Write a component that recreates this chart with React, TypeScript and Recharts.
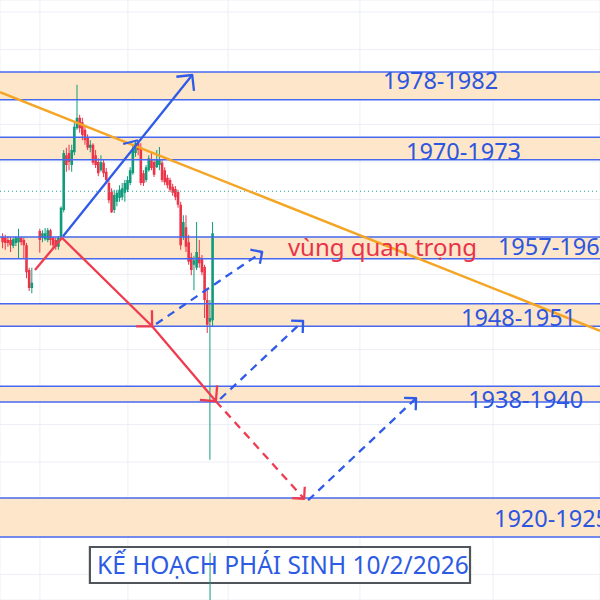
import { ComposedChart, Bar, XAxis, YAxis, CartesianGrid, ReferenceArea, ReferenceLine, ReferenceDot } from 'recharts'

// candles, one slot per bar (null = no bar drawn)
const opens = [
  1960.0, 1959.9, 1959.6, 1959.6, 1958.8, 1959.2, 1959.3, 1959.9, 1959.6, 1958.9, 1955.6, 1953.2, null, null,
  1960.8, 1959.9, 1959.7, 1959.6, 1960.9, 1959.9, 1959.6, 1958.7, 1960.0,
  1963.6, 1970.9, 1971.2, 1969.6, 1971.3, 1974.5, 1975.9, 1975.3, 1974.3, 1973.3, 1971.9, 1972.3, 1970.9, 1970.0,
  1968.9, 1969.9, 1968.7, 1967.2, 1966.0, 1963.6, 1964.7, 1965.2, 1965.3, 1965.9, 1966.3, 1967.2, 1968.5, 1971.2,
  1972.5, 1972.0, 1968.5, 1967.6, 1968.9, 1970.3, 1970.0, 1969.3, 1969.6, 1969.9, 1968.9, 1967.9, 1967.6, 1966.7,
  1966.4, 1966.0, 1964.3, 1960.0, 1961.3, 1959.3, 1957.3, 1956.3, 1955.9, 1957.3, 1957.2, 1956.0, 1951.6, 1948.7, 1948.9,
]
const highs = [
  1960.5, 1960.3, 1960.1, 1960.0, 1959.9, 1960.1, 1961.1, 1960.0, 1959.9, 1959.2, 1955.9, 1955.9, null, null,
  1961.1, 1960.9, 1961.2, 1961.2, 1961.1, 1960.0, 1959.9, 1960.1, 1964.1,
  1971.6, 1971.9, 1972.3, 1972.3, 1975.2, 1980.3, 1976.3, 1975.9, 1974.7, 1973.7, 1972.9, 1972.5, 1971.6, 1970.5,
  1970.9, 1970.3, 1969.2, 1967.6, 1966.5, 1966.3, 1966.3, 1966.9, 1967.2, 1967.6, 1968.1, 1969.3, 1972.3, 1972.9,
  1972.9, 1972.5, 1968.9, 1969.6, 1970.9, 1971.2, 1970.3, 1971.6, 1972.0, 1970.3, 1969.3, 1968.3, 1967.9, 1967.1,
  1966.8, 1966.3, 1964.7, 1962.9, 1962.9, 1960.3, 1957.9, 1957.5, 1962.0, 1959.6, 1957.6, 1956.3, 1952.9, 1951.6, 1962.0,
]
const lows = [
  1958.5, 1958.3, 1958.7, 1958.0, 1958.5, 1958.8, 1957.2, 1958.9, 1957.2, 1954.5, 1952.8, 1952.5, null, null,
  1957.9, 1959.3, 1959.5, 1959.3, 1958.9, 1958.5, 1958.3, 1958.3, 1959.9,
  1963.3, 1968.7, 1968.9, 1968.7, 1970.9, 1974.3, 1973.9, 1972.9, 1972.3, 1971.6, 1971.3, 1969.6, 1969.2, 1968.1,
  1968.7, 1968.0, 1967.2, 1964.5, 1963.2, 1963.2, 1964.1, 1964.7, 1964.9, 1964.7, 1966.0, 1966.9, 1968.3, 1970.7,
  1970.9, 1966.9, 1966.8, 1967.3, 1968.7, 1968.9, 1968.0, 1969.2, 1968.9, 1967.3, 1966.9, 1966.5, 1966.0, 1965.5,
  1964.9, 1963.9, 1958.3, 1959.6, 1958.0, 1956.3, 1954.9, 1952.9, 1955.6, 1955.9, 1954.9, 1949.2, 1947.2, 1930.3, 1948.1,
]
const closes = [
  1959.3, 1959.2, 1959.2, 1958.9, 1959.7, 1959.9, 1959.9, 1959.3, 1958.9, 1955.3, 1953.2, 1953.9, null, null,
  1959.6, 1960.5, 1960.5, 1960.9, 1959.6, 1958.9, 1958.7, 1959.9, 1963.9,
  1971.2, 1969.6, 1970.0, 1971.6, 1974.7, 1975.9, 1974.5, 1973.6, 1972.9, 1971.9, 1972.3, 1969.9, 1969.6, 1968.5,
  1970.0, 1968.5, 1967.6, 1964.9, 1963.3, 1965.6, 1965.9, 1966.3, 1966.5, 1967.2, 1967.6, 1968.9, 1971.6, 1972.5,
  1971.6, 1967.2, 1967.2, 1969.3, 1970.5, 1969.2, 1968.3, 1970.3, 1970.3, 1967.6, 1967.3, 1966.9, 1966.3, 1965.9,
  1965.3, 1964.3, 1958.9, 1962.0, 1958.7, 1956.7, 1955.6, 1956.9, 1958.0, 1956.5, 1955.3, 1951.6, 1948.3, 1949.2, 1960.5,
]

// price zones (top, bottom) and their labels
const zones = [[1982, 1978.3], [1973.3, 1970.3], [1960, 1957.1], [1951.1, 1948.1], [1940.1, 1938], [1925.2, 1920]]
const zoneLabels = ['1978-1982', '1970-1973', '1957-1960', '1948-1951', '1938-1940', '1920-1925']
const zoneLabelX = [143.1, 151.7, 186.3, 172.4, 175.1, 184.8]
const zoneLabelY = [1979.73, 1970.27, 1957.6, 1948.13, 1937.2, 1921.33]

const gridPrices = [1915, 1920, 1925, 1930, 1935, 1940, 1945, 1950, 1955, 1960, 1965, 1970, 1975, 1980, 1985, 1990]
const gridTimes = [14.0, 47.1, 84.8, 134.4, 184.5]
const priceLine = 1966.1
const trendLine = [[-1.02, 1979.3], [224.7, 1947.5]]

// drawings: from [bar, price] to [bar, price]
const arrows = [
  { from: [12.15, 1955.6], to: [22.3, 1959.9], color: 'red', dashed: false, head: 0 },
  { from: [22.7, 1960.1], to: [71.3, 1981.6], color: 'blue', dashed: false, head: 16 },
  { from: [45.3, 1972.4], to: [50.9, 1972.9], color: 'blue', dashed: false, head: 0 },
  { from: [22.3, 1959.9], to: [56.2, 1948.1], color: 'red', dashed: false, head: 16 },
  { from: [56.2, 1948.1], to: [80.2, 1938.1], color: 'red', dashed: false, head: 16 },
  { from: [80.2, 1938.1], to: [113.4, 1925.1], color: 'red', dashed: true, head: 12 },
  { from: [57.7, 1948.4], to: [97.6, 1958.0], color: 'blue', dashed: true, head: 12 },
  { from: [81.8, 1938.4], to: [113.0, 1948.8], color: 'blue', dashed: true, head: 12 },
  { from: [114.9, 1924.9], to: [155.5, 1938.5], color: 'blue', dashed: true, head: 12 },
]

const keyZoneText = 'vùng quan trọng'
const keyZonePos = [107.3, 1957.47]
const title = 'KẾ HOẠCH PHÁI SINH 10/2/2026'
const titleBox = [32.8, 175.8, 1913.87, 1918.67]
const titlePos = [35.5, 1915.07]
const markerLine = [78, 1917.9, 1911.6]

const UP = '#109b7b'
const DOWN = '#ec3348'
const BLUE = '#2f5be8'
const RED = '#ef3b50'
const FONT = "'Noto Sans', sans-serif"

const data = opens
  .map((open, i) => ({ i, open, high: highs[i], low: lows[i], close: closes[i] }))
  .filter((d) => d.open != null)

function Candle(props: any) {
  const { x, y, width, height, payload } = props
  if (!payload || x == null || y == null) return null
  const { open, high, low, close } = payload
  const top = Math.min(y, y + height)
  const h = Math.abs(height)
  const k = high > low ? h / (high - low) : 0
  const py = (p: number) => top + (high - p) * k
  const cx = x + width / 2
  const color = close >= open ? UP : DOWN
  const bTop = py(Math.max(open, close))
  const bH = Math.max(1, py(Math.min(open, close)) - bTop)
  return (
    <g>
      <line x1={cx} x2={cx} y1={top} y2={top + h} stroke={color} strokeWidth={1} />
      <rect x={cx - 1.3} y={bTop} width={2.6} height={bH} fill={color} />
    </g>
  )
}

function arrowShape(head: number, dashed: boolean) {
  return (p: any) => {
    const { x1, y1, x2, y2, stroke, strokeWidth } = p
    const a = Math.atan2(y2 - y1, x2 - x1)
    const hx = (d: number) => x2 + head * Math.cos(a + Math.PI + d)
    const hy = (d: number) => y2 + head * Math.sin(a + Math.PI + d)
    return (
      <g>
        <line x1={x1} y1={y1} x2={x2} y2={y2} stroke={stroke} strokeWidth={strokeWidth}
          strokeDasharray={dashed ? '8 6' : undefined} />
        {head > 0 && (
          <path
            d={`M${hx(-Math.PI / 4)},${hy(-Math.PI / 4)} L${x2},${y2} L${hx(Math.PI / 4)},${hy(Math.PI / 4)}`}
            fill="none" stroke={stroke} strokeWidth={strokeWidth} strokeLinejoin="round"
          />
        )}
      </g>
    )
  }
}

const textShape = (value: string, color: string, size: number) => (p: any) => (
  <text x={p.cx} y={p.cy} fill={color} fontSize={size} fontFamily={FONT}>{value}</text>
)

export default function App() {
  return (
    <div style={{ position: 'absolute', left: 0, top: 0, width: 600, height: 600, overflow: 'hidden', background: '#fff' }}>
      <ComposedChart width={600} height={600} data={data} margin={{ top: 0, right: 0, bottom: 0, left: 0 }}>
        <CartesianGrid stroke="#eceff5" />
        <XAxis dataKey="i" type="number" domain={[-1.02, 224.7]} ticks={gridTimes} hide allowDataOverflow />
        <YAxis type="number" domain={[1911.6, 1991.6]} ticks={gridPrices} hide allowDataOverflow />

        {zones.map(([t, b]) => (
          <ReferenceArea key={`z${t}`} y1={b} y2={t} fill="#fde6c9" fillOpacity={1} stroke="none" />
        ))}
        {zones.flat().map((v) => (
          <ReferenceLine key={`l${v}`} y={v} stroke="#4669ef" strokeWidth={1.6} />
        ))}
        <ReferenceLine y={priceLine} stroke="#26a69a" strokeDasharray="1 3" />

        <Bar dataKey={(d: any) => [d.low, d.high]} barSize={3} shape={<Candle />} isAnimationActive={false} />

        <ReferenceLine
          segment={[{ x: trendLine[0][0], y: trendLine[0][1] }, { x: trendLine[1][0], y: trendLine[1][1] }]}
          stroke="#f5a524" strokeWidth={2.5} ifOverflow="visible"
        />
        {arrows.map((a, k) => (
          <ReferenceLine
            key={`a${k}`}
            segment={[{ x: a.from[0], y: a.from[1] }, { x: a.to[0], y: a.to[1] }]}
            stroke={a.color === 'red' ? RED : BLUE}
            strokeWidth={2.3}
            ifOverflow="visible"
            shape={arrowShape(a.head, a.dashed)}
          />
        ))}

        <ReferenceArea x1={titleBox[0]} x2={titleBox[1]} y1={titleBox[2]} y2={titleBox[3]}
          fill="#fff" fillOpacity={1} stroke="#50555c" strokeWidth={2.2} />
        <ReferenceLine
          segment={[{ x: markerLine[0], y: markerLine[1] }, { x: markerLine[0], y: markerLine[2] }]}
          stroke={UP} strokeWidth={1} ifOverflow="visible"
        />

        {zoneLabels.map((s, k) => (
          <ReferenceDot key={s} x={zoneLabelX[k]} y={zoneLabelY[k]} r={0} shape={textShape(s, '#2c56df', 23.5)} />
        ))}
        <ReferenceDot x={keyZonePos[0]} y={keyZonePos[1]} r={0} shape={textShape(keyZoneText, '#e8334a', 24)} />
        <ReferenceDot x={titlePos[0]} y={titlePos[1]} r={0} shape={textShape(title, '#2d5be3', 24.5)} />
      </ComposedChart>
    </div>
  )
}
